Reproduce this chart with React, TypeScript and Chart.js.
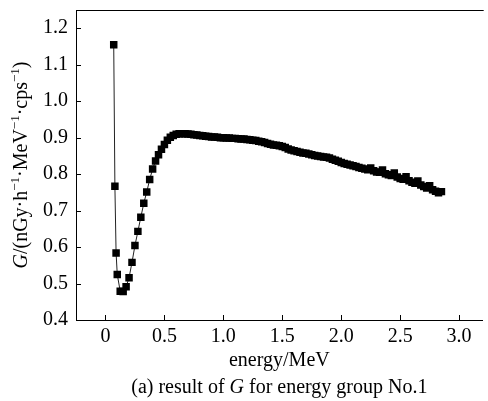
import React, { useEffect, useRef } from 'react';
import { Chart, registerables } from 'chart.js';

Chart.register(...registerables);

const energies = [
  0.07, 0.08, 0.09, 0.1, 0.125, 0.15, 0.175, 0.2, 0.225, 0.25, 0.275, 0.3, 0.325, 0.35, 0.375, 0.4,
  0.425, 0.45, 0.475, 0.5, 0.525, 0.55, 0.575, 0.6, 0.625, 0.65, 0.675, 0.7, 0.725, 0.75, 0.775, 0.8,
  0.825, 0.85, 0.875, 0.9, 0.925, 0.95, 0.975, 1.0, 1.025, 1.05, 1.075, 1.1, 1.125, 1.15, 1.175, 1.2,
  1.225, 1.25, 1.275, 1.3, 1.325, 1.35, 1.375, 1.4, 1.425, 1.45, 1.475, 1.5, 1.525, 1.55, 1.575, 1.6,
  1.625, 1.65, 1.675, 1.7, 1.725, 1.75, 1.775, 1.8, 1.825, 1.85, 1.875, 1.9, 1.925, 1.95, 1.975, 2.0,
  2.025, 2.05, 2.075, 2.1, 2.125, 2.15, 2.175, 2.2, 2.225, 2.25, 2.275, 2.3, 2.325, 2.35, 2.375, 2.4,
  2.425, 2.45, 2.475, 2.5, 2.525, 2.55, 2.575, 2.6, 2.625, 2.65, 2.675, 2.7, 2.725, 2.75, 2.775, 2.8,
  2.825, 2.85,
];

const gValues = [
  1.155, 0.767, 0.584, 0.525, 0.479, 0.478, 0.491, 0.516, 0.558, 0.604, 0.643, 0.682, 0.72, 0.751, 0.785, 0.814,
  0.836, 0.853, 0.868, 0.881, 0.893, 0.901, 0.906, 0.909, 0.911, 0.911, 0.911, 0.91, 0.909, 0.908, 0.907, 0.906,
  0.905, 0.904, 0.903, 0.902, 0.902, 0.901, 0.9, 0.9, 0.899, 0.899, 0.898, 0.898, 0.897, 0.896, 0.896, 0.895,
  0.894, 0.893, 0.892, 0.89, 0.889, 0.887, 0.884, 0.882, 0.88, 0.879, 0.878, 0.876, 0.873, 0.869, 0.866, 0.864,
  0.862, 0.86, 0.858, 0.857, 0.855, 0.853, 0.851, 0.85, 0.848, 0.847, 0.846, 0.844, 0.841, 0.838, 0.835, 0.832,
  0.829, 0.827, 0.825, 0.823, 0.821, 0.818, 0.816, 0.814, 0.812, 0.817, 0.809, 0.806, 0.805, 0.811, 0.801, 0.798,
  0.796, 0.803, 0.792, 0.788, 0.786, 0.793, 0.782, 0.778, 0.775, 0.781, 0.77, 0.766, 0.762, 0.768, 0.757, 0.753,
  0.749, 0.752,
];

const xTickValues = [0, 0.5, 1.0, 1.5, 2.0, 2.5, 3.0];
const yTickValues = [0.4, 0.5, 0.6, 0.7, 0.8, 0.9, 1.0, 1.1, 1.2];

const xTitle = 'energy/MeV';
const yTitleParts = [
  { t: 'G', i: true },
  { t: '/(nGy·h' },
  { t: '−1', s: true },
  { t: '·MeV' },
  { t: '−1', s: true },
  { t: '·cps' },
  { t: '−1', s: true },
  { t: ')' },
];
const captionParts = [
  { t: '(a) result of ' },
  { t: 'G', i: true },
  { t: ' for energy group No.1' },
];

const FAMILY = '"Liberation Serif", "Times New Roman", Times, serif';
const FS = 20;
const SUP_FS = 13;

type Part = { t: string; i?: boolean; s?: boolean };

function fontFor(p: Part) {
  return `${p.i ? 'italic ' : ''}${p.s ? SUP_FS : FS}px ${FAMILY}`;
}

function drawRich(ctx: CanvasRenderingContext2D, parts: Part[], cx: number, baseline: number) {
  let total = 0;
  const widths = parts.map((p) => {
    ctx.font = fontFor(p);
    const w = ctx.measureText(p.t).width;
    total += w;
    return w;
  });
  let x = cx - total / 2;
  ctx.textAlign = 'left';
  ctx.textBaseline = 'alphabetic';
  parts.forEach((p, k) => {
    ctx.font = fontFor(p);
    ctx.fillText(p.t, x, p.s ? baseline - 8 : baseline);
    x += widths[k];
  });
}

const decorPlugin = {
  id: 'decor',
  afterDraw(chart: any) {
    const { ctx, chartArea, scales } = chart;
    const { left, right, top, bottom } = chartArea;
    ctx.save();
    ctx.strokeStyle = '#000';
    ctx.lineWidth = 1;
    ctx.beginPath();
    ctx.moveTo(left, top + 0.5);
    ctx.lineTo(right + 1, top + 0.5);
    xTickValues.forEach((v) => {
      const px = Math.round(scales.x.getPixelForValue(v)) + 0.5;
      ctx.moveTo(px, bottom);
      ctx.lineTo(px, bottom - 5);
    });
    yTickValues.forEach((v) => {
      const py = Math.round(scales.y.getPixelForValue(v)) + 0.5;
      ctx.moveTo(left, py);
      ctx.lineTo(left + 5, py);
    });
    ctx.stroke();

    ctx.fillStyle = '#000';
    const cx = (left + right) / 2;
    drawRich(ctx, [{ t: xTitle }], cx, 366);
    drawRich(ctx, captionParts, cx, 393);

    ctx.translate(27, (top + bottom) / 2);
    ctx.rotate(-Math.PI / 2);
    drawRich(ctx, yTitleParts, 0, 0);
    ctx.restore();
  },
};

export default function App() {
  const ref = useRef<HTMLCanvasElement>(null);

  useEffect(() => {
    document.body.style.margin = '0';
    const canvas = ref.current;
    if (!canvas) return;
    const chart = new Chart(canvas, {
      type: 'line',
      data: {
        datasets: [
          {
            data: energies.map((e, k) => ({ x: e, y: gValues[k] })),
            borderColor: '#222',
            borderWidth: 1,
            pointStyle: 'rect',
            pointRadius: 5.3,
            pointBackgroundColor: '#000',
            pointBorderWidth: 0,
            tension: 0,
          },
        ],
      },
      options: {
        animation: false,
        responsive: false,
        maintainAspectRatio: false,
        layout: { padding: { top: 10, right: 1, left: 0, bottom: 0 } },
        plugins: { legend: { display: false }, tooltip: { enabled: false } },
        scales: {
          x: {
            type: 'linear',
            min: -0.25,
            max: 3.2,
            grid: { display: false, drawTicks: false },
            border: { display: true, color: '#000', width: 1 },
            afterBuildTicks: (s: any) => {
              s.ticks = xTickValues.map((v) => ({ value: v }));
            },
            afterFit: (s: any) => {
              s.height = 81;
              s.paddingLeft = 0;
              s.paddingRight = 0;
            },
            ticks: {
              color: '#000',
              font: { family: FAMILY, size: FS },
              padding: 5,
              maxRotation: 0,
              autoSkip: false,
              callback: (v: any) => (Number(v) === 0 ? '0' : Number(v).toFixed(1)),
            },
          },
          y: {
            type: 'linear',
            min: 0.4,
            max: 1.25,
            grid: { display: false, drawTicks: false },
            border: { display: true, color: '#000', width: 1 },
            afterBuildTicks: (s: any) => {
              s.ticks = yTickValues.map((v) => ({ value: v }));
            },
            afterFit: (s: any) => {
              s.width = 76;
              s.paddingTop = 0;
              s.paddingBottom = 0;
            },
            ticks: {
              color: '#000',
              font: { family: FAMILY, size: FS },
              padding: 8,
              autoSkip: false,
              callback: (v: any) => Number(v).toFixed(1),
            },
          },
        },
      },
      plugins: [decorPlugin],
    } as any);
    return () => chart.destroy();
  }, []);

  return (
    <div style={{ position: 'absolute', left: 0, top: 0, width: 488, height: 401 }}>
      <canvas ref={ref} width={488} height={401} style={{ width: 488, height: 401, display: 'block' }} />
    </div>
  );
}
